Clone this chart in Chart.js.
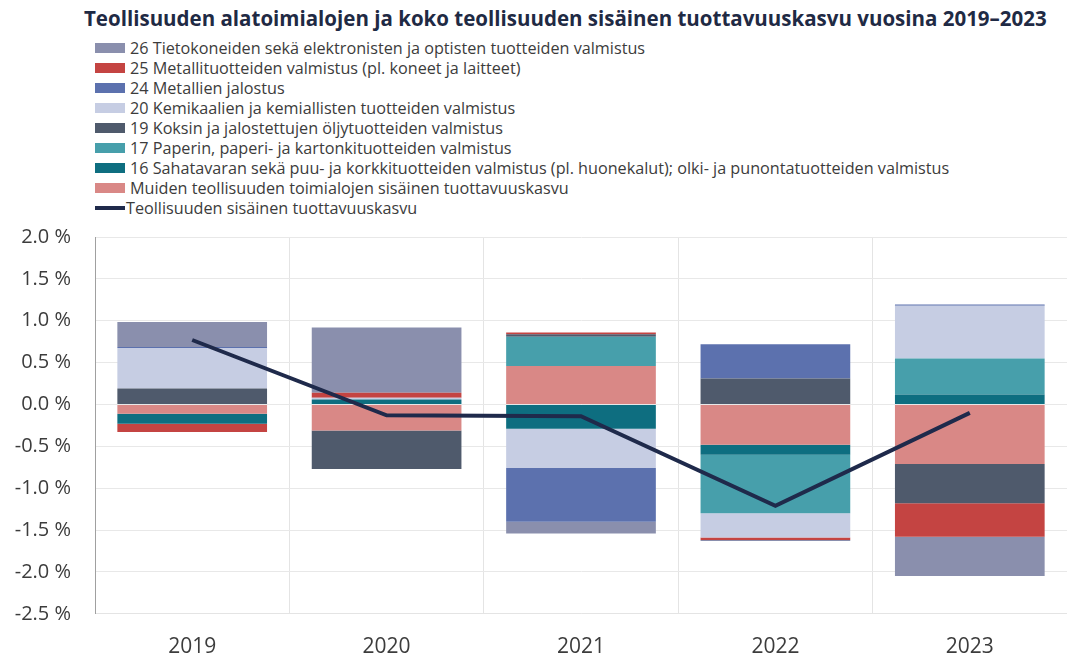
<!DOCTYPE html>
<html lang="fi">
<head>
<meta charset="utf-8">
<script src="https://cdn.jsdelivr.net/npm/chart.js@4"></script>
<style>
    html, body { margin: 0; padding: 0; background: #fff; }
    body { width: 1067px; height: 658px; position: relative; overflow: hidden; font-family: "Open Sans", sans-serif; }
    #title { position: absolute; left: 84px; top: 4px; font-size: 20.5px; font-weight: 700; color: #1f2a44; white-space: nowrap; }
    #legend { position: absolute; left: 95px; top: 38px; font-size: 16.2px; color: #3c3c3c; }
    .item { height: 20px; line-height: 20px; display: flex; align-items: center; white-space: nowrap; }
    .sw { width: 30px; height: 10px; margin-right: 5px; }
    .sw.line { height: 4px; margin-right: 1px; }
    #wrap { position: absolute; left: 0; top: 0; width: 1067px; height: 685px; }
</style>
</head>
<body>
<div id="title">Teollisuuden alatoimialojen ja koko teollisuuden sisäinen tuottavuuskasvu vuosina 2019–2023</div>
<div id="legend"></div>
<div id="wrap"><canvas id="chart"></canvas></div>
<script>
// Years
const years = ['2019', '2020', '2021', '2022', '2023'];

// Contributions by industry (percentage points)
const muiden = [-0.11, -0.31, 0.46, -0.48, -0.71];
const s16 = [-0.12, 0.06, -0.29, -0.12, 0.12];
const s17 = [0, 0, 0.35, -0.70, 0.43];
const s19 = [0.19, -0.46, 0.03, 0.31, -0.47];
const s20 = [0.485, 0.02, -0.47, -0.29, 0.63];
const s24 = [0.01, 0, -0.64, 0.41, 0.015];
const s25 = [-0.10, 0.06, 0.02, -0.03, -0.40];
const s26 = [0.30, 0.78, -0.14, -0.01, -0.47];

// Whole manufacturing
const total = [0.77, -0.13, -0.14, -1.21, -0.10];

const barSeries = [
    { label: 'Muiden teollisuuden toimialojen sisäinen tuottavuuskasvu', data: muiden, color: '#d98886' },
    { label: '16 Sahatavaran sekä puu- ja korkkituotteiden valmistus (pl. huonekalut); olki- ja punontatuotteiden valmistus', data: s16, color: '#0e6e80' },
    { label: '17 Paperin, paperi- ja kartonkituotteiden valmistus', data: s17, color: '#479fab' },
    { label: '19 Koksin ja jalostettujen öljytuotteiden valmistus', data: s19, color: '#4f5a6c' },
    { label: '20 Kemikaalien ja kemiallisten tuotteiden valmistus', data: s20, color: '#c6cde3' },
    { label: '24 Metallien jalostus', data: s24, color: '#5c71ae' },
    { label: '25 Metallituotteiden valmistus (pl. koneet ja laitteet)', data: s25, color: '#c44442' },
    { label: '26 Tietokoneiden sekä elektronisten ja optisten tuotteiden valmistus', data: s26, color: '#8a8fad' }
];
const lineLabel = 'Teollisuuden sisäinen tuottavuuskasvu';
const lineColor = '#1f2a4b';

const datasets = [{
    type: 'line',
    label: lineLabel,
    data: total,
    borderColor: lineColor,
    backgroundColor: lineColor,
    borderWidth: 4,
    pointRadius: 0,
    tension: 0,
    stack: 'line',
    order: 0
}];
barSeries.forEach(s => {
    datasets.push({
        type: 'bar',
        label: s.label,
        data: s.data,
        backgroundColor: s.color,
        borderWidth: 0,
        stack: 'bars',
        order: 1
    });
});

// Legend (reversed, like the original)
const legendEl = document.getElementById('legend');
const legendRows = barSeries.slice().reverse().map(s =>
    `<div class="item"><span class="sw" style="background:${s.color}"></span>${s.label}</div>`
);
legendRows.push(`<div class="item"><span class="sw line" style="background:${lineColor}"></span>${lineLabel}</div>`);
legendEl.innerHTML = legendRows.join('');

const ctx = document.getElementById('chart').getContext('2d');
new Chart(ctx, {
    data: { labels: years, datasets: datasets },
    options: {
        responsive: true,
        maintainAspectRatio: false,
        animation: false,
        layout: { padding: { top: 237, right: 0, left: 0, bottom: 4 } },
        plugins: {
            legend: { display: false },
            tooltip: { enabled: false }
        },
        datasets: {
            bar: { categoryPercentage: 1, barPercentage: 0.77 }
        },
        scales: {
            x: {
                stacked: true,
                grid: { offset: true, color: '#e4e4e4', drawTicks: false },
                border: { color: '#e4e4e4' },
                ticks: { padding: 21, color: '#3c3c3c', font: { family: 'Open Sans', size: 21 } }
            },
            y: {
                stacked: true,
                min: -2.5,
                max: 2.0,
                grid: { color: '#e8e8e8', drawTicks: false },
                border: { color: '#a0a0a0' },
                afterFit: function(scale) { scale.width = 95; },
                ticks: {
                    stepSize: 0.5,
                    padding: 24,
                    color: '#3c3c3c',
                    font: { family: 'Open Sans', size: 20 },
                    callback: function(value) { return value.toFixed(1) + ' %'; }
                }
            }
        }
    }
});
</script>
</body>
</html>
